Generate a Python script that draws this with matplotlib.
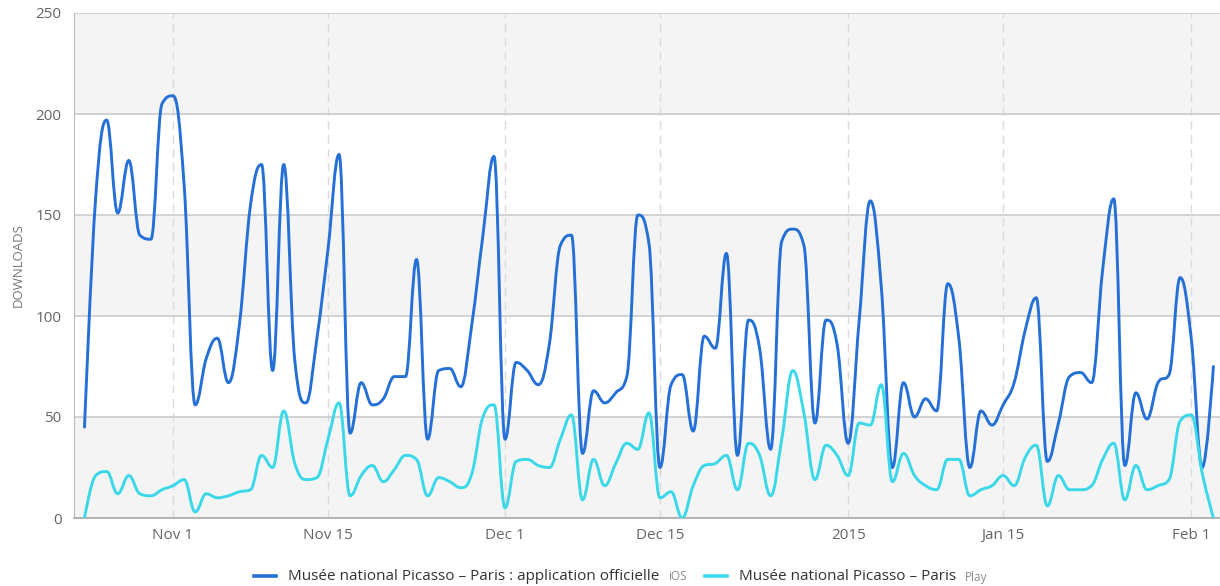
import numpy as np
import matplotlib
matplotlib.use('Agg')
import matplotlib.pyplot as plt
import matplotlib.dates as mdates
from matplotlib.path import Path
from matplotlib.patches import PathPatch
from matplotlib.lines import Line2D

plt.rcParams['font.family'] = ['Open Sans', 'DejaVu Sans']

# daily downloads, 24 Oct 2014 -> 3 Feb 2015
start_day = '2014-10-24'
ios_downloads = [
    45, 158, 197, 151, 177, 140, 138, 205,                     # Oct 24-31
    209, 165, 56, 79, 89, 67, 96, 155, 175, 73,                # Nov 1-10
    175, 78, 57, 89, 133, 180, 42, 67, 56, 59,                 # Nov 11-20
    70, 70, 128, 39, 73, 74, 65, 96, 140, 179,                 # Nov 21-30
    39, 77, 73, 66, 86, 135, 140, 32, 63, 57,                  # Dec 1-10
    62, 70, 150, 136, 25, 66, 71, 43, 90, 84,                  # Dec 11-20
    131, 31, 98, 84, 34, 137, 143, 135, 47, 98, 86,            # Dec 21-31
    37, 98, 157, 114, 25, 67, 50, 59, 53, 116,                 # Jan 1-10
    89, 25, 53, 46, 56, 67, 93, 109, 28, 47,                   # Jan 11-20
    70, 72, 67, 123, 158, 26, 62, 49, 67, 71, 119,             # Jan 21-31
    89, 25, 75,                                                # Feb 1-3
]
play_downloads = [
    0, 21, 23, 12, 21, 12, 11, 14,
    16, 19, 3, 12, 10, 11, 13, 14, 31, 25,
    53, 27, 19, 20, 39, 57, 11, 21, 26, 18,
    24, 31, 29, 11, 20, 18, 15, 22, 50, 56,
    5, 28, 29, 26, 25, 39, 51, 9, 29, 16,
    27, 37, 34, 52, 10, 13, 0, 16, 26, 27,
    31, 14, 37, 31, 11, 39, 73, 52, 19, 36, 31,
    21, 47, 46, 66, 18, 32, 21, 16, 14, 29,
    29, 11, 14, 16, 21, 16, 30, 36, 6, 21,
    14, 14, 16, 29, 37, 9, 26, 14, 16, 19, 48,
    51, 22, 0,
]
tick_dates = ['2014-11-01', '2014-11-15', '2014-12-01', '2014-12-15',
              '2015-01-01', '2015-01-15', '2015-02-01']
tick_labels = ['Nov 1', 'Nov 15', 'Dec 1', 'Dec 15', '2015', 'Jan 15', 'Feb 1']
y_ticks = [0, 50, 100, 150, 200, 250]
series_names = ['Musée national Picasso – Paris : application officielle',
                'Musée national Picasso – Paris']
store_names = ['iOS', 'Play']
colors = ['#2470d6', '#3ad8e8']


def spline_path(xs, ys, smoothing=1.5):
    # highcharts-like spline: bezier control points, no false extremes
    n = len(xs)
    denom = smoothing + 1
    right = [None] * n
    verts = [(xs[0], ys[0])]
    codes = [Path.MOVETO]
    for i in range(1, n):
        x, y = xs[i], ys[i]
        lx, ly = xs[i - 1], ys[i - 1]
        if i < n - 1:
            nx, ny = xs[i + 1], ys[i + 1]
            lcx = (smoothing * x + lx) / denom
            lcy = (smoothing * y + ly) / denom
            rcx = (smoothing * x + nx) / denom
            rcy = (smoothing * y + ny) / denom
            corr = (rcy - lcy) * (rcx - x) / (rcx - lcx) + y - rcy
            lcy += corr
            rcy += corr
            if lcy > ly and lcy > y:
                lcy = max(ly, y)
                rcy = 2 * y - lcy
            elif lcy < ly and lcy < y:
                lcy = min(ly, y)
                rcy = 2 * y - lcy
            if rcy > ny and rcy > y:
                rcy = max(ny, y)
                lcy = 2 * y - rcy
            elif rcy < ny and rcy < y:
                rcy = min(ny, y)
                lcy = 2 * y - rcy
            right[i] = (rcx, rcy)
        else:
            lcx, lcy = x, y
        prev = right[i - 1] if right[i - 1] is not None else (lx, ly)
        verts += [prev, (lcx, lcy), (x, y)]
        codes += [Path.CURVE4] * 3
    return Path(verts, codes)


days = np.datetime64(start_day) + np.arange(len(ios_downloads))
xnum = mdates.date2num(days)

fig = plt.figure(figsize=(12.2, 5.86), dpi=100)
ax = fig.add_axes([74 / 1220, 68 / 586, 1 - 74 / 1220, 505 / 586])

for lo in y_ticks[:-1:2]:
    ax.axhspan(lo, lo + 50, color='#f4f4f4', zorder=0, lw=0)

for vals, col in zip([ios_downloads, play_downloads], colors):
    ax.add_patch(PathPatch(spline_path(xnum, vals), fill=False, edgecolor=col,
                           lw=2.1, capstyle='round', joinstyle='round', zorder=3))

ax.set_ylim(0, 250)
ax.set_xlim(xnum[0] - 0.95, xnum[-1] + 0.6)
ax.set_yticks(y_ticks)
ax.set_xticks(mdates.date2num(np.array(tick_dates, dtype='datetime64[D]')))
ax.set_xticklabels(tick_labels)
ax.tick_params(length=0, colors='#666666', labelsize=11)
ax.tick_params(axis='y', pad=9)
ax.tick_params(axis='x', pad=7)
ax.yaxis.grid(True, color='#cccccc', lw=1.2, zorder=1)
ax.xaxis.grid(True, color='#dadada', lw=1, ls=(0, (6, 4)), zorder=1)
ax.set_axisbelow(True)
for s in ['top', 'right']:
    ax.spines[s].set_visible(False)
ax.spines['left'].set_color('#bbbbbb')
ax.spines['bottom'].set_color('#aaaaaa')
ax.spines['bottom'].set_linewidth(1.2)
ax.set_ylabel('DOWNLOADS', color='#777777', fontsize=9.5, labelpad=8)

# legend drawn by hand so the store name can be small and grey
fig.canvas.draw()
r = fig.canvas.get_renderer()
W = 1220.0
x = 288 / W
y = 1 - 576 / 586
for name, store, col in zip(series_names, store_names, colors):
    fig.add_artist(Line2D([x - 34 / W, x - 12 / W], [y, y], color=col, lw=2.6,
                          transform=fig.transFigure))
    t = fig.text(x, y, name, fontsize=11, color='#333333', va='center')
    bb = t.get_window_extent(r)
    t2 = fig.text(bb.x1 / W + 9 / W, y - 1 / 586, store, fontsize=8.5,
                  color='#8c8c8c', va='center')
    bb2 = t2.get_window_extent(r)
    x = bb2.x1 / W + 52 / W

fig.savefig('out.png', dpi=100)
